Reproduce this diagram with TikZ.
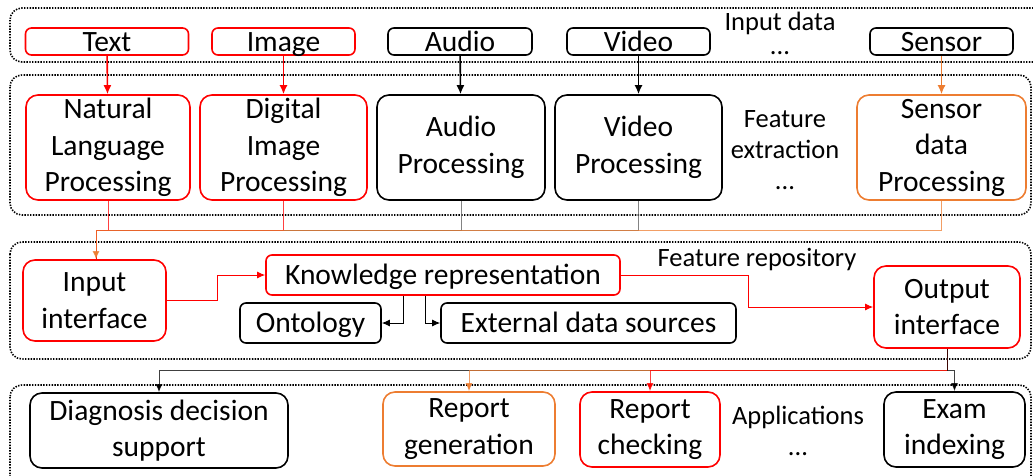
\documentclass[tikz,border=0pt]{standalone}
\usepackage{fontspec}
\setmainfont{Carlito}
\usetikzlibrary{arrows.meta}
\definecolor{myred}{RGB}{255,0,0}
\definecolor{myorange}{RGB}{237,125,49}
\definecolor{mygray}{RGB}{90,90,90}
\tikzset{
  frame/.style={draw=black, line width=1.6pt, dash pattern=on 1.4pt off 1.4pt, rounded corners=12pt},
  bigbox/.style={draw=black, line width=1.6pt, rounded corners=12pt, align=center, inner sep=0pt,
     font=\fontsize{29.5}{36.5}\selectfont},
  smallbox/.style={draw=black, line width=1.6pt, rounded corners=6pt, align=center, inner sep=0pt,
     text height=22pt, text depth=3pt, font=\fontsize{29.5}{36}\selectfont},
  lbl/.style={align=center, inner sep=0pt, font=\fontsize{26.5}{31}\selectfont},
  thickarrow/.style={line width=1.6pt, -{Latex[length=9pt,width=8pt]}},
  thinarrow/.style={line width=1pt, -{Latex[length=8pt,width=7pt]}},
  bus/.style={line width=1pt, draw opacity=0.75},
}
\begin{document}
\begin{tikzpicture}[x=1pt,y=-1pt]
\useasboundingbox (0,0) rectangle (1033,475);
\clip (0,0) rectangle (1033,475);
% frames
\draw[frame] (10,8) rectangle (1050,62);
\draw[frame] (10,75) rectangle (1031,215);
\draw[frame] (10,242) rectangle (1031,359);
\draw[frame] (10,385) rectangle (1031,490);

% row 1
\node[smallbox, draw=myred, minimum width=163pt, minimum height=27pt] (text) at (107,41.5) {Text};
\node[smallbox, draw=myred, minimum width=143pt, minimum height=27pt] (image) at (283.5,41.5) {Image};
\node[smallbox, minimum width=144pt, minimum height=27pt] (audio) at (460,41.5) {Audio};
\node[smallbox, minimum width=143pt, minimum height=27pt] (video) at (638.5,41.5) {Video};
\node[smallbox, minimum width=143pt, minimum height=27pt] (sensor) at (941.5,41.5) {Sensor};
\node[lbl, anchor=base, text depth=0pt] (inlbl) at (780,30) {Input data};
\node[lbl, anchor=base, text height=3pt, text depth=0pt] (indots) at (780,54) {...};

% row 2
\node[bigbox, draw=myred, minimum width=164pt, minimum height=105pt] (nlp) at (108,147.5) {Natural\\Language\\Processing};
\node[bigbox, draw=myred, minimum width=167pt, minimum height=105pt] (dip) at (283.5,147.5) {Digital\\Image\\Processing};
\node[bigbox, minimum width=168pt, minimum height=105pt] (aproc) at (461,147.5) {Audio\\Processing};
\node[bigbox, minimum width=167pt, minimum height=105pt] (vproc) at (638.5,147.5) {Video\\Processing};
\node[bigbox, draw=myorange, minimum width=169pt, minimum height=105pt] (sproc) at (941.5,147.5) {Sensor\\data\\Processing};
\node[lbl] (felbl) at (785,150) {Feature\\extraction\\...};

% row 3
\node[bigbox, draw=myred, minimum width=143pt, minimum height=81pt] (in) at (94.5,300.5) {Input\\interface};
\node[smallbox, draw=myred, minimum width=354pt, minimum height=40pt] (kr) at (443,275) {Knowledge representation};
\node[smallbox, minimum width=141pt, minimum height=40pt] (ont) at (310.5,323) {Ontology};
\node[smallbox, minimum width=295pt, minimum height=40pt] (ext) at (588.5,323) {External data sources};
\node[bigbox, draw=myred, minimum width=146pt, minimum height=82pt] (out) at (947,307) {Output\\interface};
\node[lbl] (frlbl) at (757,260) {Feature repository};

% row 4
\node[bigbox, minimum width=258pt, minimum height=75pt] (diag) at (159,430.5) {Diagnosis decision\\support};
\node[bigbox, draw=myorange, minimum width=172pt, minimum height=74pt] (rgen) at (469,429) {Report\\generation};
\node[bigbox, draw=myred, minimum width=140pt, minimum height=75pt] (rchk) at (650,429.5) {Report\\checking};
\node[bigbox, minimum width=141pt, minimum height=75pt] (exam) at (954.5,429.5) {Exam\\indexing};
\node[lbl] (aplbl) at (798,431) {Applications\\...};

% row1 -> row2
\draw[thickarrow, myred] (text) -- (nlp);
\draw[thickarrow, myred] (image) -- (dip);
\draw[thickarrow, black] (audio) -- (aproc);
\draw[thickarrow, black] (video) -- (vproc);
\draw[thickarrow, myorange] (sensor) -- (sproc);

% row2 -> input interface
\draw[bus, mygray] (aproc.south) -- ++(0,30) -| ([xshift=1.5pt]in.north);
\draw[bus, mygray] (vproc.south) -- ++(0,30) -| ([xshift=1.5pt]in.north);
\draw[bus, myred] (nlp.south) -- ++(0,30) -| ([xshift=1.5pt]in.north);
\draw[bus, myred] (dip.south) -- ++(0,30) -| ([xshift=1.5pt]in.north);
\draw[bus, myorange, -{Latex[length=8pt,width=7pt]}] (sproc.south) -- ++(0,30) -| ([xshift=1.5pt]in.north);

% row 3 connectors
\draw[thinarrow, myred] (in.east) -- ++(51,0) |- (kr.west);
\draw[thinarrow, black] ([xshift=-40pt]kr.south) |- (ont.east);
\draw[thinarrow, black] ([xshift=-18pt]kr.south) |- (ext.west);
\draw[thinarrow, myred] (kr.east) -- ++(128,0) |- (out.west);

% output -> applications
\draw[bus, black, -{Latex[length=8pt,width=7pt]}] (out.south) -- ++(0,22) -| (diag.north);
\draw[bus, myorange, -{Latex[length=8pt,width=7pt]}] (out.south) -- ++(0,22) -| (rgen.north);
\draw[bus, myred, -{Latex[length=8pt,width=7pt]}] (out.south) -- ++(0,22) -| (rchk.north);
\draw[bus, black, -{Latex[length=8pt,width=7pt]}] (out.south) -- ++(0,22) -| (exam.north);
\end{tikzpicture}
\end{document}
